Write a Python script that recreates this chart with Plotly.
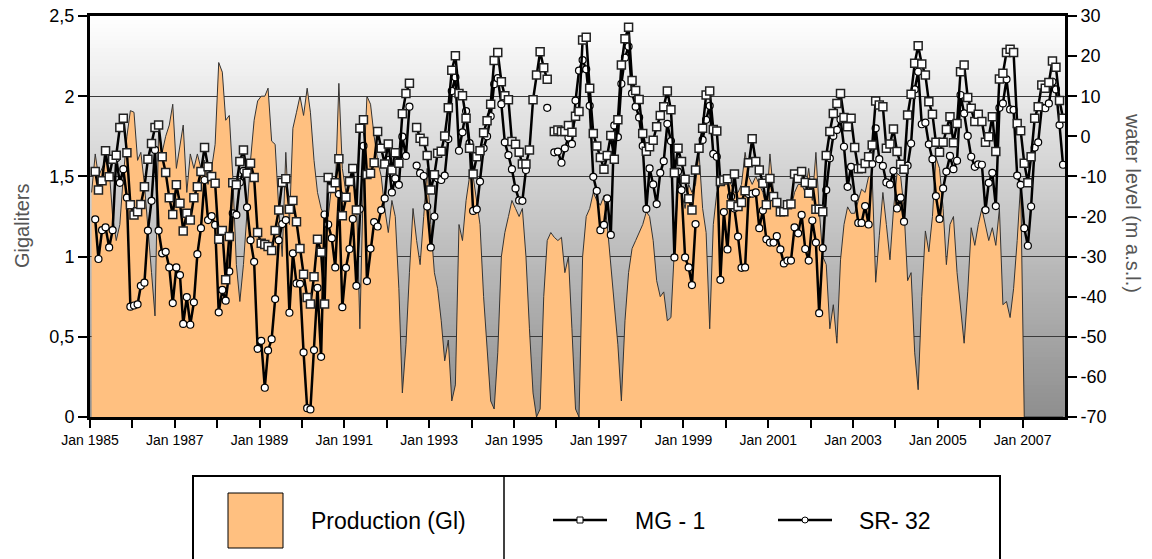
import plotly.graph_objects as go

# ---------------- data ----------------
months = [f"{1985 + m // 12}-{m % 12 + 1:02d}-15" for m in range(276)]

year_ticks = [f"{y}-01-01" for y in range(1985, 2008)]
year_labels = [f"Jan {y}" if (y - 1985) % 2 == 0 else "" for y in range(1985, 2008)]

left_ticks = [0, 0.5, 1, 1.5, 2, 2.5]
right_ticks = [-70, -60, -50, -40, -30, -20, -10, 0, 10, 20, 30]
right_labels = ["-70", "-60", "-50", "-40", "-30", "-20", "-10", "0", "10", "20", "30"]

production_gl = [
    1.40, 1.64, 1.50, 1.55, 1.60, 1.55, 1.25, 1.10, 1.20, 1.50, 1.75, 1.91,  # 1985
    1.90, 1.60, 1.65, 1.45, 1.20, 0.90, 0.63, 1.80, 1.65, 1.75, 1.82, 1.95,  # 1986
    1.55, 1.68, 1.82, 1.40, 1.64, 1.55, 1.64, 1.55, 1.60, 1.45, 1.55, 1.70,  # 1987
    2.21, 2.15, 1.85, 1.88, 1.50, 0.95, 0.72, 0.95, 1.30, 1.60, 1.85, 1.97,  # 1988
    2.00, 2.00, 2.05, 1.72, 1.70, 1.30, 1.00, 1.65, 1.20, 1.80, 1.90, 2.00,  # 1989
    1.88, 2.05, 1.90, 1.60, 1.40, 1.30, 1.25, 1.25, 1.45, 1.40, 2.08, 1.55,  # 1990
    1.40, 1.50, 1.45, 1.40, 0.55, 1.50, 2.00, 1.95, 1.75, 1.60, 1.50, 1.30,  # 1991
    1.15, 1.35, 1.25, 0.80, 0.15, 0.45, 0.90, 1.30, 1.10, 0.95, 1.25, 1.55,  # 1992
    1.20, 0.90, 0.80, 0.60, 0.35, 0.48, 0.10, 0.20, 1.20, 1.10, 1.35, 1.50,  # 1993
    1.50, 1.35, 1.20, 0.75, 0.45, 0.10, 0.05, 0.40, 1.00, 1.15, 1.25, 1.35,  # 1994
    1.30, 1.25, 1.30, 1.00, 0.55, 0.15, 0.00, 0.05, 0.75, 1.10, 1.15, 1.12,  # 1995
    1.10, 1.12, 0.90, 1.00, 0.55, 0.05, 0.00, 1.00, 1.25, 1.30, 1.40, 1.35,  # 1996
    1.32, 1.38, 1.20, 0.95, 0.70, 0.45, 0.10, 0.60, 0.90, 1.05, 1.10, 1.15,  # 1997
    1.20, 1.28, 1.25, 1.10, 0.85, 0.75, 0.78, 0.60, 0.62, 1.05, 1.45, 1.40,  # 1998
    1.30, 1.45, 1.40, 1.45, 1.65, 1.30, 1.15, 0.55, 1.20, 1.40, 1.45, 1.45,  # 1999
    1.50, 1.45, 1.40, 1.40, 1.45, 1.65, 1.50, 1.45, 1.50, 1.45, 1.40, 1.30,  # 2000
    1.64, 1.40, 1.30, 1.25, 1.30, 1.30, 1.30, 1.40, 1.45, 1.45, 1.40, 1.55,  # 2001
    1.35, 1.65, 1.30, 1.00, 0.95, 0.55, 0.70, 0.46, 0.98, 1.20, 1.31, 1.27,  # 2002
    1.27, 1.35, 1.42, 1.40, 1.50, 1.50, 0.84, 1.13, 1.40, 1.20, 0.98, 1.29,  # 2003
    1.52, 1.50, 1.30, 0.85, 0.90, 0.40, 0.17, 0.75, 1.16, 1.03, 1.25, 1.62,  # 2004
    1.55, 1.30, 0.95, 1.20, 1.25, 0.90, 0.70, 0.46, 0.78, 1.18, 1.07, 1.20,  # 2005
    1.30, 1.20, 1.10, 1.18, 1.07, 1.30, 0.70, 0.72, 0.62, 0.80, 1.10, 1.46,  # 2006
    0.00, 0.00, 0.00, 0.00, 0.00, 0.00, 0.00, 0.00, 0.00, 0.00, 0.00, 0.00,  # 2007
]

mg1_level = [
    None, -8.8, -13.4, -11.1, -3.6, -10.1, -5.7, -4.7, 2.2, 4.5, -4.1, -17.1,  # 1985
    -19.6, -18.8, -17.0, -12.6, -5.7, -1.8, 2.2, 2.8, -5.1, -9.0, -15.3, -19.5,  # 1986
    -12.1, -16.7, -23.6, -19.2, -20.9, -15.3, -12.6, -8.8, -2.8, -7.6, -10.0, -11.7,  # 1987
    -25.7, -23.5, -35.8, -25.0, -11.6, -12.1, -6.3, -3.4, -9.2, -6.7, -10.3, -24.0,  # 1988
    -26.7, -27.0, -27.5, -28.5, -23.5, -18.4, -11.5, -10.6, -18.2, -16.0, -21.3, -28.0,  # 1989
    -34.4, -40.2, -41.8, -35.0, -25.7, -28.9, -41.8, -10.3, -13.0, -11.6, -5.6, -19.8,  # 1990
    -15.2, -11.3, -8.0, -18.4, 2.0, 4.1, -9.5, -9.2, -6.6, 1.2, -3.0, -6.9,  # 1991
    -1.9, -8.4, -4.1, -6.7, 5.6, 10.7, 13.2, None, 2.2, -0.5, -1.3, -4.8,  # 1992
    -13.4, -9.6, -4.2, -3.7, 0.1, 7.1, 16.5, 20.1, 10.7, 10.1, 4.5, -3.0,  # 1993
    -9.4, -5.1, -3.6, 0.9, 3.9, 8.0, 18.9, 20.9, 13.6, 10.1, 9.1, -1.3,  # 1994
    -2.0, -4.0, -6.9, -6.9, -3.4, 9.1, 15.3, 21.1, 17.1, 14.2, None, 1.2,  # 1995
    1.6, 1.2, 1.2, 2.7, 1.0, 5.0, 6.2, 24.0, 24.7, 12.0, 0.7, -2.4,  # 1996
    -5.3, -8.2, -4.8, 0.2, -5.7, 4.1, 17.8, 24.3, 27.2, 13.9, 11.4, 9.2,  # 1997
    0.7, -3.7, -2.6, -1.0, 2.4, 5.2, 7.4, 11.3, 6.6, -9.1, -3.0, -6.3,  # 1998
    -10.7, -15.6, -18.4, -8.4, -3.0, 2.0, 10.3, 11.3, 1.7, 1.3, -11.3, -10.9,  # 1999
    -10.6, -17.1, -9.4, -17.5, -16.5, -13.6, -6.6, -0.6, -6.3, -8.4, -11.7, -17.1,  # 2000
    -10.5, -15.0, -16.5, -18.8, -18.8, -17.1, -16.9, -9.4, -10.5, -8.8, -11.5, -14.2,  # 2001
    -11.7, -18.2, -18.2, -18.8, -4.8, 1.2, 5.7, 8.2, 10.7, 4.7, 2.4, 4.5,  # 2002
    -2.8, -8.1, -8.0, -6.8, -5.1, -2.2, 8.8, 7.8, 7.4, -3.0, -1.9, 1.8,  # 2003
    -3.8, -7.0, -8.2, 5.3, 10.5, 18.2, 22.6, 18.0, 15.3, 8.6, 5.5, -1.5,  # 2004
    -4.0, -1.5, 1.7, 4.9, -1.6, 3.2, 16.1, 17.8, 9.7, 7.0, 3.7, 5.5,  # 2005
    3.7, -1.5, -0.1, 4.9, -3.8, 14.3, 15.7, 20.9, 21.7, 20.9, 3.2, 1.4,  # 2006
    -6.7, -11.6, -5.1, 4.5, 7.4, 12.8, 12.0, 13.4, 18.8, 17.2, 8.9, 4.5,  # 2007
]

sr32_level = [
    None, -20.7, -30.6, -23.4, -22.7, -27.7, -23.4, -5.5, -11.6, -8.2, -15.3, -42.5,  # 1985
    -42.2, -41.9, -37.3, -36.5, -23.5, -16.1, -3.4, -23.5, -29.2, -28.8, -32.7, -41.6,  # 1986
    -32.7, -34.6, -46.8, -40.1, -47.0, -41.4, -29.4, -22.9, -10.9, -20.9, -19.9, -22.1,  # 1987
    -43.9, -38.3, -41.0, -33.7, -19.2, -19.6, -11.5, -8.6, -17.7, -25.9, -31.3, -53.0,  # 1988
    -51.0, -62.7, -53.4, -50.6, -40.6, -25.9, -21.9, -20.9, -44.0, -29.2, -36.7, -36.8,  # 1989
    -53.9, -67.8, -68.1, -53.3, -37.8, -55.0, -19.5, -22.0, -25.4, -32.7, -14.4, -42.6,  # 1990
    -32.8, -28.1, -20.6, -37.3, -18.1, -2.4, -36.1, -28.0, -21.4, -22.5, -18.4, -15.5,  # 1991
    -5.9, -14.0, -10.5, -12.1, -0.1, -4.9, 7.4, None, -7.3, -9.2, -9.9, -17.5,  # 1992
    -27.7, -20.0, -10.5, -10.9, -9.8, -0.7, 11.3, 14.7, -3.6, 1.0, 6.3, -1.7,  # 1993
    -18.6, -18.2, -11.3, -3.0, 0.0, 5.0, 13.0, 14.5, 8.0, -1.5, -4.7, -8.2,  # 1994
    -13.0, -16.0, -16.1, -8.4, None, None, None, None, None, 7.1, None, -4.0,  # 1995
    -3.8, -6.6, -3.0, -0.3, -1.9, 8.9, 16.4, 19.0, 16.7, 7.6, -10.1, -13.6,  # 1996
    -23.4, -22.1, -15.5, -24.6, 2.7, -0.2, 13.1, 19.6, 22.4, 10.7, 7.4, 4.7,  # 1997
    -2.4, -18.1, -8.0, -12.0, -16.9, -9.1, -6.2, 3.1, -1.2, -30.2, -8.8, -13.4,  # 1998
    -30.2, -32.7, -37.1, -21.9, None, -0.9, 4.1, 7.6, -4.4, -5.1, -35.8, -18.9,  # 1999
    -28.2, -15.0, -18.0, -25.0, -32.8, -32.7, -14.4, -14.3, -14.0, -22.9, -18.5, -25.7,  # 2000
    -26.5, -26.5, -24.9, -28.2, -31.7, -31.0, -31.0, -22.7, -24.2, -19.6, -28.1, -31.0,  # 2001
    -21.0, -26.5, -44.1, -27.9, -13.4, -5.5, 0.1, 1.6, 4.2, -2.6, -12.6, -7.6,  # 2002
    -15.3, -21.6, -21.6, -17.4, -22.0, -6.9, 2.0, -5.7, -7.4, -11.5, -12.0, -8.6,  # 2003
    -18.0, -15.3, -21.3, -7.3, -1.8, 11.7, 16.1, 3.0, 3.4, -2.0, -5.7, -14.9,  # 2004
    -20.6, -13.0, -8.8, -4.9, -8.2, -6.1, 10.3, 5.7, 0.1, -5.1, -7.6, -7.0,  # 2005
    -7.1, -18.4, -11.6, -9.1, -17.4, 7.1, 8.2, 14.2, 6.7, 6.6, -9.8, -12.1,  # 2006
    -22.9, -27.3, -17.5, -2.8, -1.5, 7.2, 7.0, 8.2, 13.6, 11.7, 2.8, -7.1,  # 2007
]

# ---------------- styles ----------------
FONT = "Arial, Liberation Sans, sans-serif"
ORANGE = "#FFC080"

W, H = 1152, 559
PX0, PX1, PY0, PY1 = 90, 1065, 16, 417  # plot area in pixels


def px(X):
    return (X - PX0) / (PX1 - PX0)


def py(Y):
    return (PY1 - Y) / (PY1 - PY0)


fig = go.Figure()

fig.add_trace(go.Scatter(
    x=months, y=production_gl, mode="lines", fill="tozeroy",
    fillcolor=ORANGE, line=dict(color="#333333", width=1),
    name="Production (Gl)", yaxis="y", showlegend=False,
))
fig.add_trace(go.Scatter(
    x=months, y=sr32_level, mode="lines+markers", connectgaps=False,
    line=dict(color="black", width=2.5),
    marker=dict(symbol="circle", size=7, color="white", line=dict(color="black", width=1.2)),
    name="SR- 32", yaxis="y2", showlegend=False,
))
fig.add_trace(go.Scatter(
    x=months, y=mg1_level, mode="lines+markers", connectgaps=False,
    line=dict(color="black", width=2.5),
    marker=dict(symbol="square", size=8, color="white", line=dict(color="#222222", width=1.5)),
    name="MG - 1", yaxis="y2", showlegend=False,
))

shapes = []
# vertical grey gradient background of the plot area
N = 100
for i in range(N):
    t = (i + 0.5) / N
    c = int(round(142 + (255 - 142) * t))
    shapes.append(dict(type="rect", xref="paper", yref="paper", x0=0, x1=1,
                       y0=i / N, y1=(i + 1) / N + 0.003,
                       fillcolor=f"rgb({c},{c},{c})", line=dict(width=0), layer="below"))

# legend box
shapes.append(dict(type="rect", xref="paper", yref="paper", x0=px(193), x1=px(1000),
                   y0=py(476), y1=py(620), line=dict(color="black", width=2),
                   fillcolor="white", layer="above"))
shapes.append(dict(type="line", xref="paper", yref="paper", x0=px(504), x1=px(504),
                   y0=py(476), y1=py(620), line=dict(color="black", width=1.5)))
shapes.append(dict(type="rect", xref="paper", yref="paper", x0=px(228), x1=px(283),
                   y0=py(548), y1=py(493), fillcolor=ORANGE, line=dict(color="black", width=1)))
# MG-1 sample
shapes.append(dict(type="line", xref="paper", yref="paper", x0=px(553), x1=px(607),
                   y0=py(520), y1=py(520), line=dict(color="black", width=2.5)))
shapes.append(dict(type="rect", xref="paper", yref="paper", x0=px(577), x1=px(583),
                   y0=py(523), y1=py(517), fillcolor="white", line=dict(color="black", width=1)))
# SR-32 sample
shapes.append(dict(type="line", xref="paper", yref="paper", x0=px(778), x1=px(832),
                   y0=py(520), y1=py(520), line=dict(color="black", width=2.5)))
shapes.append(dict(type="circle", xref="paper", yref="paper", x0=px(802), x1=px(808),
                   y0=py(523), y1=py(517), fillcolor="white", line=dict(color="black", width=1)))

annotations = [
    dict(text="Gigaliters", xref="paper", yref="paper", x=px(22), y=py(226),
         textangle=-90, showarrow=False, xanchor="center", yanchor="middle",
         font=dict(family=FONT, size=20, color="#555555")),
    dict(text="water level (m a.s.l.)", xref="paper", yref="paper", x=px(1133), y=py(203),
         textangle=90, showarrow=False, xanchor="center", yanchor="middle",
         font=dict(family=FONT, size=20, color="#555555")),
    dict(text="Production (Gl)", xref="paper", yref="paper", x=px(388), y=py(521),
         showarrow=False, xanchor="center", yanchor="middle",
         font=dict(family=FONT, size=23, color="black")),
    dict(text="MG - 1", xref="paper", yref="paper", x=px(633), y=py(521),
         showarrow=False, xanchor="left", yanchor="middle",
         font=dict(family=FONT, size=23, color="black")),
    dict(text="SR- 32", xref="paper", yref="paper", x=px(857), y=py(521),
         showarrow=False, xanchor="left", yanchor="middle",
         font=dict(family=FONT, size=23, color="black")),
]

fig.update_layout(
    width=W, height=H, autosize=False,
    margin=dict(l=PX0, r=W - PX1, t=PY0, b=H - PY1, pad=0),
    paper_bgcolor="white", plot_bgcolor="rgba(0,0,0,0)",
    separators=",.",
    showlegend=False,
    shapes=shapes, annotations=annotations,
    font=dict(family=FONT, color="black"),
    xaxis=dict(
        type="date", range=["1985-01-01", "2008-01-01"], automargin=False,
        tickvals=year_ticks, ticktext=year_labels,
        ticks="outside", ticklen=8, tickwidth=1.5, tickcolor="black",
        tickfont=dict(family=FONT, size=14, color="black"),
        showline=True, linewidth=3, linecolor="black", mirror=True,
        showgrid=False, zeroline=False,
    ),
    yaxis=dict(
        range=[0, 2.5], tickvals=left_ticks, automargin=False,
        ticks="outside", ticklen=9, tickwidth=1.5, tickcolor="black",
        tickfont=dict(family=FONT, size=18, color="black"),
        showline=True, linewidth=3, linecolor="black",
        showgrid=True, gridcolor="#3a3a3a", gridwidth=1, zeroline=False,
    ),
    yaxis2=dict(
        range=[-70, 30], tickvals=right_ticks, ticktext=right_labels, automargin=False,
        overlaying="y", side="right", anchor="x",
        ticks="outside", ticklen=9, tickwidth=1.5, tickcolor="black",
        tickfont=dict(family=FONT, size=18, color="black"),
        showline=True, linewidth=3, linecolor="black",
        showgrid=False, zeroline=False,
    ),
)

fig.write_html("out.html")
